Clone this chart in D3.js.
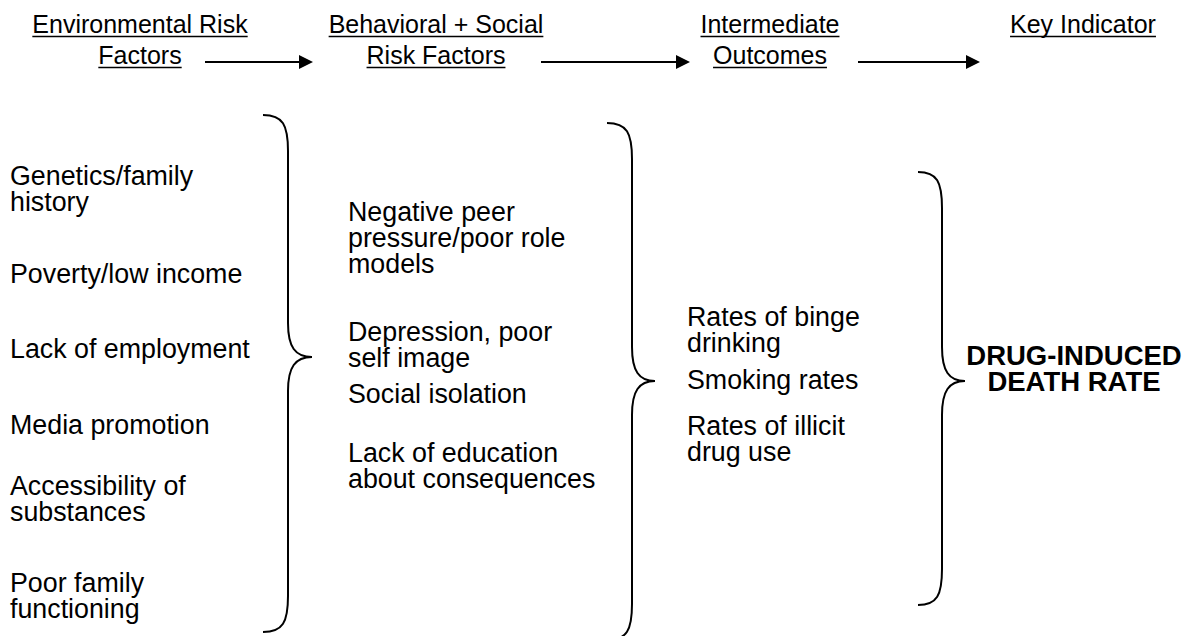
<!DOCTYPE html>
<html lang="en">
<head>
  <meta charset="UTF-8">
  <title>Drug-induced death rate</title>
  <style>
    body { margin: 0; background: #fff; }
    text { font-family: "Liberation Sans", Arial, Helvetica, sans-serif; fill: #000; }
  </style>
</head>
<body>
  <svg id="viz-area" width="1190" height="636"></svg>

  <script src="https://d3js.org/d3.v7.min.js"></script>
  <script>
    // column headings (each entry is the lines of one heading)
    const headings = [
      ["Environmental Risk", "Factors"],
      ["Behavioral + Social", "Risk Factors"],
      ["Intermediate", "Outcomes"],
      ["Key Indicator"]
    ];
    const environmentalFactors = [
      ["Genetics/family", "history"],
      ["Poverty/low income"],
      ["Lack of employment"],
      ["Media promotion"],
      ["Accessibility of", "substances"],
      ["Poor family", "functioning"]
    ];
    const behavioralFactors = [
      ["Negative peer", "pressure/poor role", "models"],
      ["Depression, poor", "self image"],
      ["Social isolation"],
      ["Lack of education", "about consequences"]
    ];
    const intermediateOutcomes = [
      ["Rates of binge", "drinking"],
      ["Smoking rates"],
      ["Rates of illicit", "drug use"]
    ];
    const keyIndicator = ["DRUG-INDUCED", "DEATH RATE"];

    const W = 1190, H = 636;
    const svg = d3.select("#viz-area");
    const lineH = 26;

    // headings
    const headX = [140, 436, 770, 1083];
    const headY = d3.scaleLinear().domain([0, 1]).range([33, 64]);

    headings.forEach((lines, i) => {
      const g = svg.append("g");
      lines.forEach((t, j) => {
        const txt = g.append("text")
          .attr("x", headX[i])
          .attr("y", headY(j))
          .attr("text-anchor", "middle")
          .style("font-size", "25px")
          .text(t);
        const w = txt.node().getComputedTextLength();
        g.append("line")
          .attr("x1", headX[i] - w / 2)
          .attr("x2", headX[i] + w / 2)
          .attr("y1", headY(j) + 3.5)
          .attr("y2", headY(j) + 3.5)
          .attr("stroke", "#000")
          .attr("stroke-width", 1.6);
      });
    });

    // arrows between headings
    const arrows = [[205, 313], [541, 690], [858, 980]];
    const arrowY = 62;
    arrows.forEach(([a, b]) => {
      svg.append("line")
        .attr("x1", a).attr("x2", b - 12)
        .attr("y1", arrowY).attr("y2", arrowY)
        .attr("stroke", "#000").attr("stroke-width", 2.2);
      svg.append("path")
        .attr("d", `M${b - 14},${arrowY - 7} L${b},${arrowY} L${b - 14},${arrowY + 7} Z`)
        .attr("fill", "#000");
    });

    // text blocks: first-line baseline of each item
    function block(items, x, starts, opts = {}) {
      items.forEach((lines, i) => {
        lines.forEach((t, j) => {
          svg.append("text")
            .attr("x", x)
            .attr("y", starts[i] + j * lineH)
            .attr("text-anchor", opts.anchor || "start")
            .style("font-size", opts.size || "26.8px")
            .style("font-weight", opts.bold ? "bold" : "normal")
            .text(t);
        });
      });
    }

    block(environmentalFactors, 10, [185, 283, 358, 434, 495, 592]);
    block(behavioralFactors, 348, [221, 341, 403, 462]);
    block(intermediateOutcomes, 687, [326, 389, 435]);
    block([keyIndicator], 1074, [365], { anchor: "middle", bold: true, size: "27.5px" });

    // curly braces
    function brace(x0, x1, x2, y0, ym, y3) {
      const w = x1 - x0, t = x2 - x1;
      const p = d3.path();
      p.moveTo(x0, y0);
      p.bezierCurveTo(x0 + w * 0.8, y0, x1, y0 + 10, x1, y0 + 36);
      p.lineTo(x1, ym - 34);
      p.bezierCurveTo(x1, ym - 10, x1 + t * 0.3, ym, x2, ym);
      p.bezierCurveTo(x1 + t * 0.3, ym, x1, ym + 10, x1, ym + 34);
      p.lineTo(x1, y3 - 36);
      p.bezierCurveTo(x1, y3 - 10, x0 + w * 0.8, y3, x0, y3);
      svg.append("path")
        .attr("d", p.toString())
        .attr("fill", "none")
        .attr("stroke", "#000")
        .attr("stroke-width", 2);
    }

    brace(263, 288, 312, 115, 357, 632);
    brace(607, 632, 655, 123, 381, 640);
    brace(918, 942, 965, 172, 381, 605);
  </script>
</body>
</html>
